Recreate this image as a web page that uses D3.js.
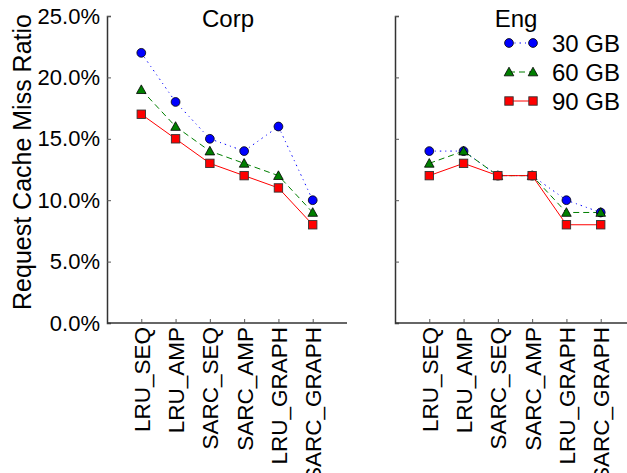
<!DOCTYPE html>
<html>
<head>
<meta charset="utf-8">
<script src="https://cdn.jsdelivr.net/npm/d3@7"></script>
<style>
  html, body { margin: 0; padding: 0; background: #fff; }
  svg { display: block; font-family: "Liberation Sans", Arial, Helvetica, sans-serif; }
</style>
</head>
<body>
<svg id="chart" width="627" height="473"></svg>
<script>
// ---- data ----
const categories = ["LRU_SEQ", "LRU_AMP", "SARC_SEQ", "SARC_AMP", "LRU_GRAPH", "SARC_GRAPH"];
const panels = ["Corp", "Eng"];
const seriesNames = ["30 GB", "60 GB", "90 GB"];
const corp30 = [22, 18, 15, 14, 16, 10];
const corp60 = [19, 16, 14, 13, 12, 9];
const corp90 = [17, 15, 13, 12, 11, 8];
const eng30 = [14, 14, 12, 12, 10, 9];
const eng60 = [13, 14, 12, 12, 9, 9];
const eng90 = [12, 13, 12, 12, 8, 8];
const yTicks = [0, 5, 10, 15, 20, 25];
const yLabel = "Request Cache Miss Ratio";

const panelData = [
  [corp30, corp60, corp90],
  [eng30, eng60, eng90]
];

// ---- styles ----
const styles = [
  { color: "#0000ff", dash: "1.5,4,1,4", marker: "circle" },
  { color: "#007f00", dash: "6,4", marker: "triangle" },
  { color: "#ff0000", dash: null, marker: "square" }
];

const svg = d3.select("#chart");
const y = d3.scaleLinear().domain([0, 25]).range([323, 16]);
const panelX = [
  d3.scaleLinear().domain([-1, 6]).range([107, 347]),
  d3.scaleLinear().domain([-1, 6]).range([395, 635])
];

function drawMarker(g, type, cx, cy, color) {
  if (type === "circle") {
    g.append("circle").attr("cx", cx).attr("cy", cy).attr("r", 4.4)
      .attr("fill", color).attr("stroke", "#000").attr("stroke-width", 0.8);
  } else if (type === "triangle") {
    const s = 4.8;
    g.append("path")
      .attr("d", `M${cx},${cy - s} L${cx + s},${cy + s * 0.8} L${cx - s},${cy + s * 0.8} Z`)
      .attr("fill", color).attr("stroke", "#000").attr("stroke-width", 0.8);
  } else {
    const s = 4.2;
    g.append("rect").attr("x", cx - s).attr("y", cy - s).attr("width", 2 * s).attr("height", 2 * s)
      .attr("fill", color).attr("stroke", "#333").attr("stroke-width", 0.9);
  }
}

panels.forEach((name, pi) => {
  const x = panelX[pi];
  const g = svg.append("g");
  const [x0, x1] = x.range();

  // y axis
  const yAxis = d3.axisLeft(y).tickValues(yTicks).tickSize(-4).tickPadding(7)
    .tickFormat(d => pi === 0 ? d3.format(".1f")(d) + "%" : "");
  const ya = g.append("g").attr("transform", `translate(${x0},0)`).call(yAxis);
  ya.select(".domain").attr("stroke", "#333").attr("stroke-width", 1.5);
  ya.selectAll(".tick line").attr("stroke", "#555").attr("stroke-width", 1);
  ya.selectAll("text").attr("font-size", 22).attr("fill", "#000")
    .attr("font-family", "Liberation Sans, Arial, sans-serif");

  // x axis
  const xAxis = d3.axisBottom(x).tickValues(d3.range(categories.length)).tickSize(-4)
    .tickFormat(i => categories[i]);
  const xa = g.append("g").attr("transform", `translate(0,${y(0)})`).call(xAxis);
  xa.select(".domain").attr("stroke", "#333").attr("stroke-width", 1.5)
    .attr("d", `M${x0},0H${x1}`);
  xa.selectAll(".tick line").attr("stroke", "#555").attr("stroke-width", 1);
  xa.selectAll("text")
    .attr("font-size", 22.5).attr("fill", "#000")
    .attr("font-family", "Liberation Sans, Arial, sans-serif")
    .attr("transform", "rotate(-90)")
    .attr("text-anchor", "end")
    .attr("x", -4).attr("y", 0).attr("dy", "0.36em");

  // title
  g.append("text").attr("x", (x0 + x1) / 2 + 1).attr("y", 27)
    .attr("text-anchor", "middle").attr("font-size", 24).text(name);

  // series
  panelData[pi].forEach((vals, si) => {
    const st = styles[si];
    const line = d3.line().x((d, i) => x(i)).y(d => y(d));
    g.append("path").datum(vals).attr("d", line)
      .attr("fill", "none").attr("stroke", st.color).attr("stroke-width", 1)
      .attr("stroke-dasharray", st.dash);
  });
  panelData[pi].forEach((vals, si) => {
    const st = styles[si];
    const mg = g.append("g");
    vals.forEach((v, i) => drawMarker(mg, st.marker, x(i), y(v), st.color));
  });
});

// y label
svg.append("text")
  .attr("transform", `translate(31,162) rotate(-90)`)
  .attr("text-anchor", "middle").attr("font-size", 25).text(yLabel);

// legend
const lg = svg.append("g");
seriesNames.forEach((n, si) => {
  const st = styles[si];
  const cy = 43 + si * 29;
  lg.append("line").attr("x1", 509).attr("x2", 533).attr("y1", cy).attr("y2", cy)
    .attr("stroke", st.color).attr("stroke-width", 1).attr("stroke-dasharray", st.dash);
  drawMarker(lg, st.marker, 509, cy, st.color);
  drawMarker(lg, st.marker, 533, cy, st.color);
  lg.append("text").attr("x", 552).attr("y", cy + 8.5).attr("font-size", 24).text(n);
});
</script>
</body>
</html>
